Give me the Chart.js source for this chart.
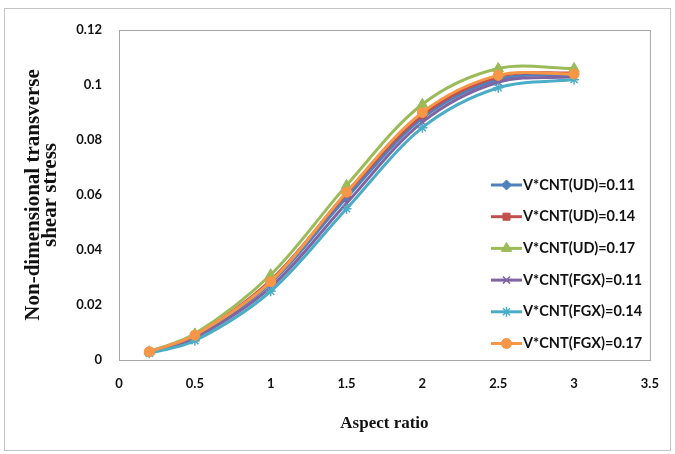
<!DOCTYPE html>
<html>
<head>
<meta charset="utf-8">
<script src="https://cdn.jsdelivr.net/npm/chart.js@4.4.0/dist/chart.umd.min.js"></script>
<style>
  html, body { margin: 0; padding: 0; background: #fff; }
  #wrap { position: relative; width: 675px; height: 454px; }
</style>
</head>
<body>
<div id="wrap"><canvas id="stressChart" width="675" height="454"></canvas></div>
<script>
// values
const aspectRatios = [0.2, 0.5, 1, 1.5, 2, 2.5, 3];

const seriesLabels = [
    'V*CNT(UD)=0.11',
    'V*CNT(UD)=0.14',
    'V*CNT(UD)=0.17',
    'V*CNT(FGX)=0.11',
    'V*CNT(FGX)=0.14',
    'V*CNT(FGX)=0.17'
];

const ud011 = [0.0028, 0.0085, 0.0280, 0.0590, 0.0880, 0.1020, 0.1040];
const ud014 = [0.0030, 0.0090, 0.0290, 0.0605, 0.0890, 0.1030, 0.1045];
const ud017 = [0.0030, 0.0095, 0.0310, 0.0635, 0.0930, 0.1060, 0.1060];
const fgx011 = [0.0027, 0.0080, 0.0265, 0.0570, 0.0865, 0.1010, 0.1030];
const fgx014 = [0.0025, 0.0070, 0.0250, 0.0550, 0.0845, 0.0990, 0.1020];
const fgx017 = [0.0030, 0.0090, 0.0285, 0.0610, 0.0900, 0.1035, 0.1040];

const seriesColors = ['#4F81BD', '#C0504D', '#9BBB59', '#8064A2', '#4BACC6', '#F79646'];
const seriesMarkers = ['rectRot', 'rect', 'triangle', 'crossRot', 'star', 'circle'];
const seriesValues = [ud011, ud014, ud017, fgx011, fgx014, fgx017];

const xTicks = [0, 0.5, 1, 1.5, 2, 2.5, 3, 3.5];
const yTicks = [0, 0.02, 0.04, 0.06, 0.08, 0.1, 0.12];

const datasets = seriesValues.map(function (vals, i) {
    return {
        label: seriesLabels[i],
        data: vals.map((v, j) => ({ x: aspectRatios[j], y: v })),
        borderColor: seriesColors[i],
        backgroundColor: seriesColors[i],
        borderWidth: 3,
        pointStyle: seriesMarkers[i],
        pointRadius: seriesMarkers[i] === 'triangle' ? 6 : 5,
        pointBorderWidth: (seriesMarkers[i] === 'crossRot' || seriesMarkers[i] === 'star') ? 1.5 : 1,
        tension: 0.33,
        fill: false,
        order: seriesValues.length - i   // later series drawn on top, like Excel
    };
});

// frame around plot and outer chart border
const frames = {
    id: 'frames',
    beforeDraw(chart) {
        const ctx = chart.ctx;
        const a = chart.chartArea;
        ctx.save();
        ctx.fillStyle = '#fff';
        ctx.fillRect(0, 0, chart.width, chart.height);
        ctx.strokeStyle = '#c4c4c4';
        ctx.lineWidth = 1;
        ctx.strokeRect(4.5, 8.5, 666, 442);
        ctx.strokeStyle = '#a6a6a6';
        ctx.strokeRect(a.left + 0.5, a.top + 0.5, a.right - a.left, a.bottom - a.top);
        ctx.restore();
    }
};

// legend sitting inside the plot, on the right
const insideLegend = {
    id: 'insideLegend',
    afterDraw(chart) {
        const ctx = chart.ctx;
        ctx.save();
        chart.data.datasets.forEach(function (ds, i) {
            const y = 185 + i * 31.7;
            ctx.strokeStyle = ds.borderColor;
            ctx.fillStyle = ds.backgroundColor;
            ctx.lineWidth = 3;
            ctx.beginPath();
            ctx.moveTo(491, y);
            ctx.lineTo(522, y);
            ctx.stroke();
            ctx.lineWidth = ds.pointBorderWidth;
            Chart.helpers.drawPoint(ctx, {
                pointStyle: ds.pointStyle,
                radius: ds.pointRadius,
                borderWidth: ds.pointBorderWidth,
                rotation: 0
            }, 506.5, y);
            ctx.fillStyle = '#111';
            ctx.font = 'bold 14.5px Lato';
            ctx.textAlign = 'left';
            ctx.textBaseline = 'middle';
            ctx.fillText(ds.label, 523, y);
        });
        ctx.restore();
    }
};

const ctx = document.getElementById('stressChart').getContext('2d');
const chart = new Chart(ctx, {
    type: 'line',
    data: { datasets: datasets },
    options: {
        responsive: false,
        animation: false,
        devicePixelRatio: 1,
        layout: { padding: { top: 30, right: 22, left: 0, bottom: 0 } },
        plugins: {
            legend: { display: false },
            tooltip: { enabled: false }
        },
        scales: {
            x: {
                type: 'linear',
                min: 0,
                max: 3.5,
                afterFit: function (scale) { scale.height = 94; },
                afterBuildTicks: function (scale) {
                    scale.ticks = xTicks.map(v => ({ value: v }));
                },
                grid: { display: false, drawTicks: false },
                border: { display: false },
                ticks: {
                    padding: 16,
                    color: '#111',
                    font: { family: 'Lato', weight: 'bold', size: 13 },
                    callback: v => String(+v.toFixed(2))
                },
                title: {
                    display: true,
                    text: 'Aspect ratio',
                    color: '#111',
                    font: { family: 'Liberation Serif', weight: 'bold', size: 17 },
                    padding: { top: 0, bottom: 20 }
                }
            },
            y: {
                min: 0,
                max: 0.12,
                afterFit: function (scale) { scale.width = 119; },
                afterBuildTicks: function (scale) {
                    scale.ticks = yTicks.map(v => ({ value: v }));
                },
                grid: { display: false, drawTicks: false },
                border: { display: false },
                ticks: {
                    padding: 17,
                    color: '#111',
                    font: { family: 'Lato', weight: 'bold', size: 13 },
                    callback: v => String(+v.toFixed(2))
                },
                title: {
                    display: true,
                    text: ['Non-dimensional transverse', 'shear stress'],
                    color: '#111',
                    font: { family: 'Liberation Serif', weight: 'bold', size: 21, lineHeight: 0.82 },
                    padding: { top: 25, bottom: 0 }
                }
            }
        }
    },
    plugins: [frames, insideLegend]
});
</script>
</body>
</html>
